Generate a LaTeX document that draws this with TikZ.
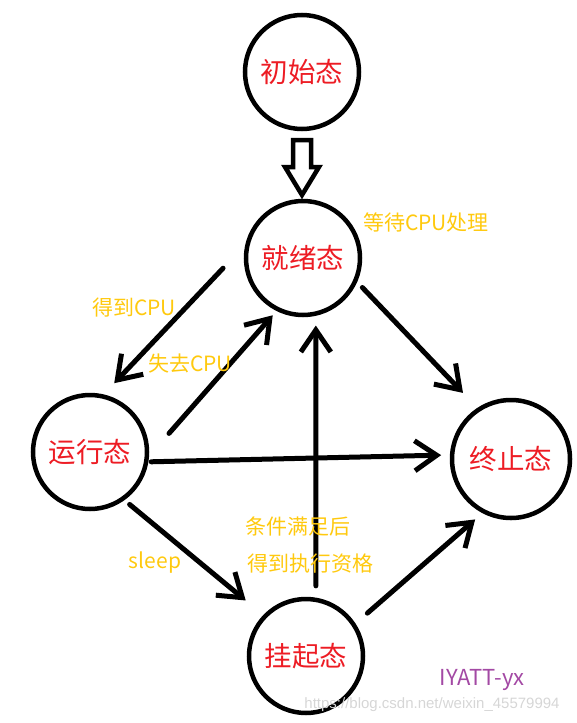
\documentclass[tikz,border=0pt]{standalone}
\usepackage{fontspec}
\setmainfont{Noto Sans CJK SC}
\newfontfamily\wmfont{Liberation Sans}
\usetikzlibrary{arrows.meta}
\definecolor{statered}{HTML}{ED1C24}
\definecolor{notegold}{HTML}{FFC90E}
\definecolor{signpurple}{HTML}{A349A4}
\definecolor{markgray}{HTML}{D6D6D6}

\begin{document}
\begin{tikzpicture}[x=1pt, y=-1pt,
    state/.style={circle, draw, line width=4.5pt, minimum size=114pt, inner sep=0pt, outer sep=0pt,
      text=statered, font=\fontsize{27.5}{30}\selectfont},
    trans/.style={line width=5pt, line cap=round, -{Straight Barb[length=22pt, width=30pt]}},
    note/.style={text=notegold, inner sep=0pt, font=\fontsize{21}{24}\selectfont}]
      \useasboundingbox (0,0) rectangle (577,723);

      % Draw the states
      \node[state] (init) at (302,72) {初始态};
      \node[state] (ready) at (303,258) {就绪态};
      \node[state] (run) at (90,452) {运行态};
      \node[state, minimum size=118pt] (term) at (511,459) {终止态};
      \node[state] (hang) at (306,656) {挂起态};

      % Hollow arrow from the initial state
      \coordinate (blk) at (302,140);
      \draw[line width=4.5pt, miter limit=10] (blk) ++(-9,0) -- ++(18,0) -- ++(0,27) -- ++(8,0)
        -- (302,195) -- ++(-17,-28) -- ++(8,0) -- cycle;

      % Transitions
      \draw[trans, shorten <=37pt, shorten >=18pt] (ready.163) -- (run.78);
      \draw[trans, shorten <=34pt, shorten >=8pt] (run.353) -- (ready.244);
      \draw[trans, shorten <=10pt, shorten >=23pt] (ready.337) -- (term.123);
      \draw[trans, shorten <=5pt, shorten >=11pt] (run.350) -- (term.176);
      \draw[trans, shorten <=9pt, shorten >=25pt] (run.305) -- (hang.136);
      \draw[trans, shorten <=14pt, shorten >=12pt] (hang.80) -- (ready.283);
      \draw[trans, shorten <=18pt, shorten >=12pt] (hang.33) -- (term.243);

      % Add the labels
      \node[note] (wait) at (426,222) {等待CPU处理};
      \node[note] (get) at (134,308) {得到CPU};
      \node[note] (lose) at (190,364) {失去CPU};
      \node[note] (sleep) at (155,563) {sleep};
      \node[note] (cond) at (298,527) {条件满足后};
      \node[note] (grant) at (310,564) {得到执行资格};

      % Signature and watermark
      \node[text=signpurple, inner sep=0pt, font=\fontsize{22}{24}\selectfont] (sign) at (482,680) {IYATT-yx};
      \node[text=markgray, inner sep=0pt, font=\wmfont\fontsize{15}{16}\selectfont] (mark) at (432,705)
        {https://blog.csdn.net/weixin\_45579994};
\end{tikzpicture}
\end{document}
